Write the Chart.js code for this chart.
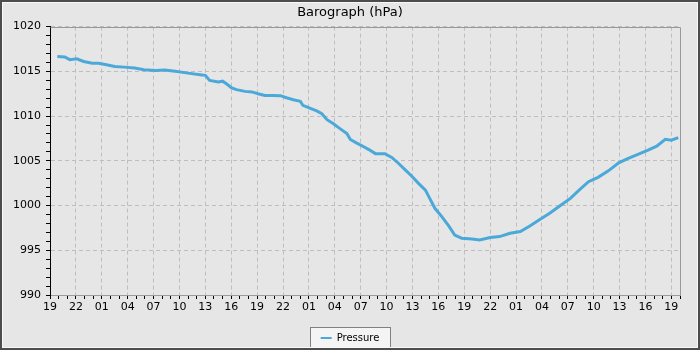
<!DOCTYPE html>
<html>
<head>
<meta charset="utf-8">
<script src="https://cdn.jsdelivr.net/npm/chart.js@4/dist/chart.umd.min.js"></script>
<style>
  html, body { margin: 0; padding: 0; background: #e6e6e6; }
  #wrap { width: 700px; height: 350px; }
</style>
</head>
<body>
<div id="wrap"><canvas id="baro"></canvas></div>
<script>
// hours since 19:00 on the first day
var hours = [0.85, 1.7, 2.3, 3.1, 3.9, 4.9, 5.6, 6.4, 7.5, 8.6, 9.8, 10.9, 12.2, 13.3, 14.5, 16.0, 17.6, 18.0,
  18.5, 19.5, 20.0, 20.6, 21.0, 21.6, 22.6, 23.4, 24.1, 24.9, 25.8, 26.7, 27.4, 28.2, 29.0, 29.3, 30.1, 30.9,
  31.5, 32.1, 32.8, 33.6, 34.4, 34.8, 35.5, 36.3, 36.9, 37.7, 38.8, 39.6, 40.4, 41.1, 41.9, 42.7, 43.5, 44.0,
  44.6, 45.4, 46.2, 46.9, 47.7, 48.9, 49.8, 51.0, 52.1, 53.3, 54.5, 55.6, 56.8, 57.9, 59.1, 60.3, 61.4, 62.4,
  63.5, 64.7, 65.9, 67.0, 68.2, 69.3, 70.3, 71.3, 72.0, 72.8];
var pressure = [1016.66, 1016.6, 1016.3, 1016.4, 1016.1, 1015.9, 1015.9, 1015.77, 1015.55, 1015.47, 1015.36, 1015.18,
  1015.1, 1015.14, 1015.0, 1014.8, 1014.6, 1014.55, 1013.98, 1013.8, 1013.9, 1013.5, 1013.17, 1012.95, 1012.76,
  1012.7, 1012.5, 1012.3, 1012.3, 1012.28, 1012.05, 1011.83, 1011.65, 1011.2, 1010.9, 1010.57, 1010.27, 1009.6,
  1009.16, 1008.6, 1008.05, 1007.38, 1007.0, 1006.6, 1006.28, 1005.8, 1005.8, 1005.37, 1004.7, 1004.04, 1003.3,
  1002.48, 1001.73, 1000.8, 999.69, 998.76, 997.72, 996.7, 996.35, 996.27, 996.16, 996.42, 996.53, 996.9, 997.09,
  997.72, 998.47, 999.13, 999.98, 1000.8, 1001.8, 1002.66, 1003.15, 1003.88, 1004.78, 1005.26, 1005.74, 1006.19,
  1006.63, 1007.41, 1007.3, 1007.6];
var hourLabels = ["19", "22", "01", "04", "07", "10", "13", "16", "19", "22", "01", "04", "07", "10", "13", "16",
  "19", "22", "01", "04", "07", "10", "13", "16", "19"];
var yLabels = [990, 995, 1000, 1005, 1010, 1015, 1020];

var points = hours.map(function (h, i) { return { x: h, y: pressure[i] }; });

Chart.defaults.font.family = "DejaVu Sans";
Chart.defaults.font.size = 11;
Chart.defaults.color = "#000";

var frame = {
  id: "frame",
  afterLayout: function (chart) {
    // centre legend and title on the whole canvas, not on the padded box
    [chart.legend, chart.titleBlock].forEach(function (b) {
      if (!b) return;
      var dx = chart.width / 2 - (b.left + b.right) / 2;
      b.left += dx;
      b.right += dx;
    });
  },
  beforeDraw: function (chart) {
    var c = chart.ctx;
    c.save();
    c.fillStyle = "#e6e6e6";
    c.fillRect(0, 0, chart.width, chart.height);
    // legend box
    var hb = chart.legend.legendHitBoxes[0];
    if (hb) {
      c.fillStyle = "#f4f4f4";
      c.strokeStyle = "#808080";
      c.lineWidth = 1;
      var l = chart.width / 2 - 40 + 0.5, t = Math.round(hb.top - 6) + 0.5;
      c.fillRect(l, t, 80, 20);
      c.strokeRect(l, t, 80, 20);
    }
    c.restore();
  },
  afterDraw: function (chart) {
    var c = chart.ctx, a = chart.chartArea;
    c.save();
    c.strokeStyle = "#999";
    c.lineWidth = 1;
    c.beginPath();
    c.moveTo(Math.round(a.left) + 0.5, Math.round(a.top) + 0.5);
    c.lineTo(Math.round(a.right) + 0.5, Math.round(a.top) + 0.5);
    c.lineTo(Math.round(a.right) + 0.5, Math.round(a.bottom) + 0.5);
    c.stroke();
    // outer frame
    c.strokeStyle = "#f8f8f8";
    c.strokeRect(2.5, 2.5, chart.width - 5, chart.height - 5);
    c.strokeStyle = "#4d4d4d";
    c.lineWidth = 2;
    c.strokeRect(1, 1, chart.width - 2, chart.height - 2);
    c.restore();
  }
};

var ctx = document.getElementById("baro").getContext("2d");
var myChart = new Chart(ctx, {
  type: "line",
  data: {
    datasets: [
      {
        label: "Pressure",
        data: points,
        borderColor: "#4ba9d9",
        backgroundColor: "#4ba9d9",
        borderWidth: 3,
        pointRadius: 0,
        tension: 0,
      },
    ],
  },
  options: {
    responsive: true,
    maintainAspectRatio: false,
    animation: false,
    layout: { padding: { left: 0, right: 20, top: 0, bottom: 0 } },
    plugins: {
      title: {
        display: true,
        text: "Barograph (hPa)",
        font: { size: 13, weight: "normal" },
        padding: { top: 5, bottom: 6 },
      },
      legend: {
        display: true,
        position: "bottom",
        maxHeight: 23,
        labels: {
          padding: 6,
          boxWidth: 11,
          boxHeight: 2,
          font: { size: 10 },
          generateLabels: function (chart) {
            return [{ text: "Pressure", fillStyle: "#4ba9d9", strokeStyle: "#4ba9d9", lineWidth: 0, datasetIndex: 0 }];
          },
        },
      },
      tooltip: { enabled: false },
    },
    scales: {
      x: {
        type: "linear",
        min: 0,
        max: 73,
        afterFit: function (s) { s.height = 32; },
        ticks: {
          stepSize: 1,
          autoSkip: false,
          maxRotation: 0,
          padding: 2,
          callback: function (v) { return v % 3 === 0 ? hourLabels[v / 3] : ""; },
        },
        grid: {
          color: function (c) { return c.tick && c.tick.value % 3 === 0 ? "#bebebe" : "rgba(0,0,0,0)"; },
          tickColor: "#000",
          tickLength: 4,
        },
        border: { color: "#9a9a9a", dash: [4, 3] },
      },
      y: {
        min: 990,
        max: 1020,
        afterFit: function (s) { s.width = 50; },
        ticks: {
          stepSize: 1,
          autoSkip: false,
          padding: 5,
          callback: function (v) { return yLabels.indexOf(v) >= 0 ? String(v) : ""; },
        },
        grid: {
          color: function (c) { return c.tick && c.tick.value % 5 === 0 ? "#bebebe" : "rgba(0,0,0,0)"; },
          tickColor: "#000",
          tickLength: 4,
        },
        border: { color: "#000", dash: [4, 3] },
      },
    },
  },
  plugins: [frame],
});
</script>
</body>
</html>
